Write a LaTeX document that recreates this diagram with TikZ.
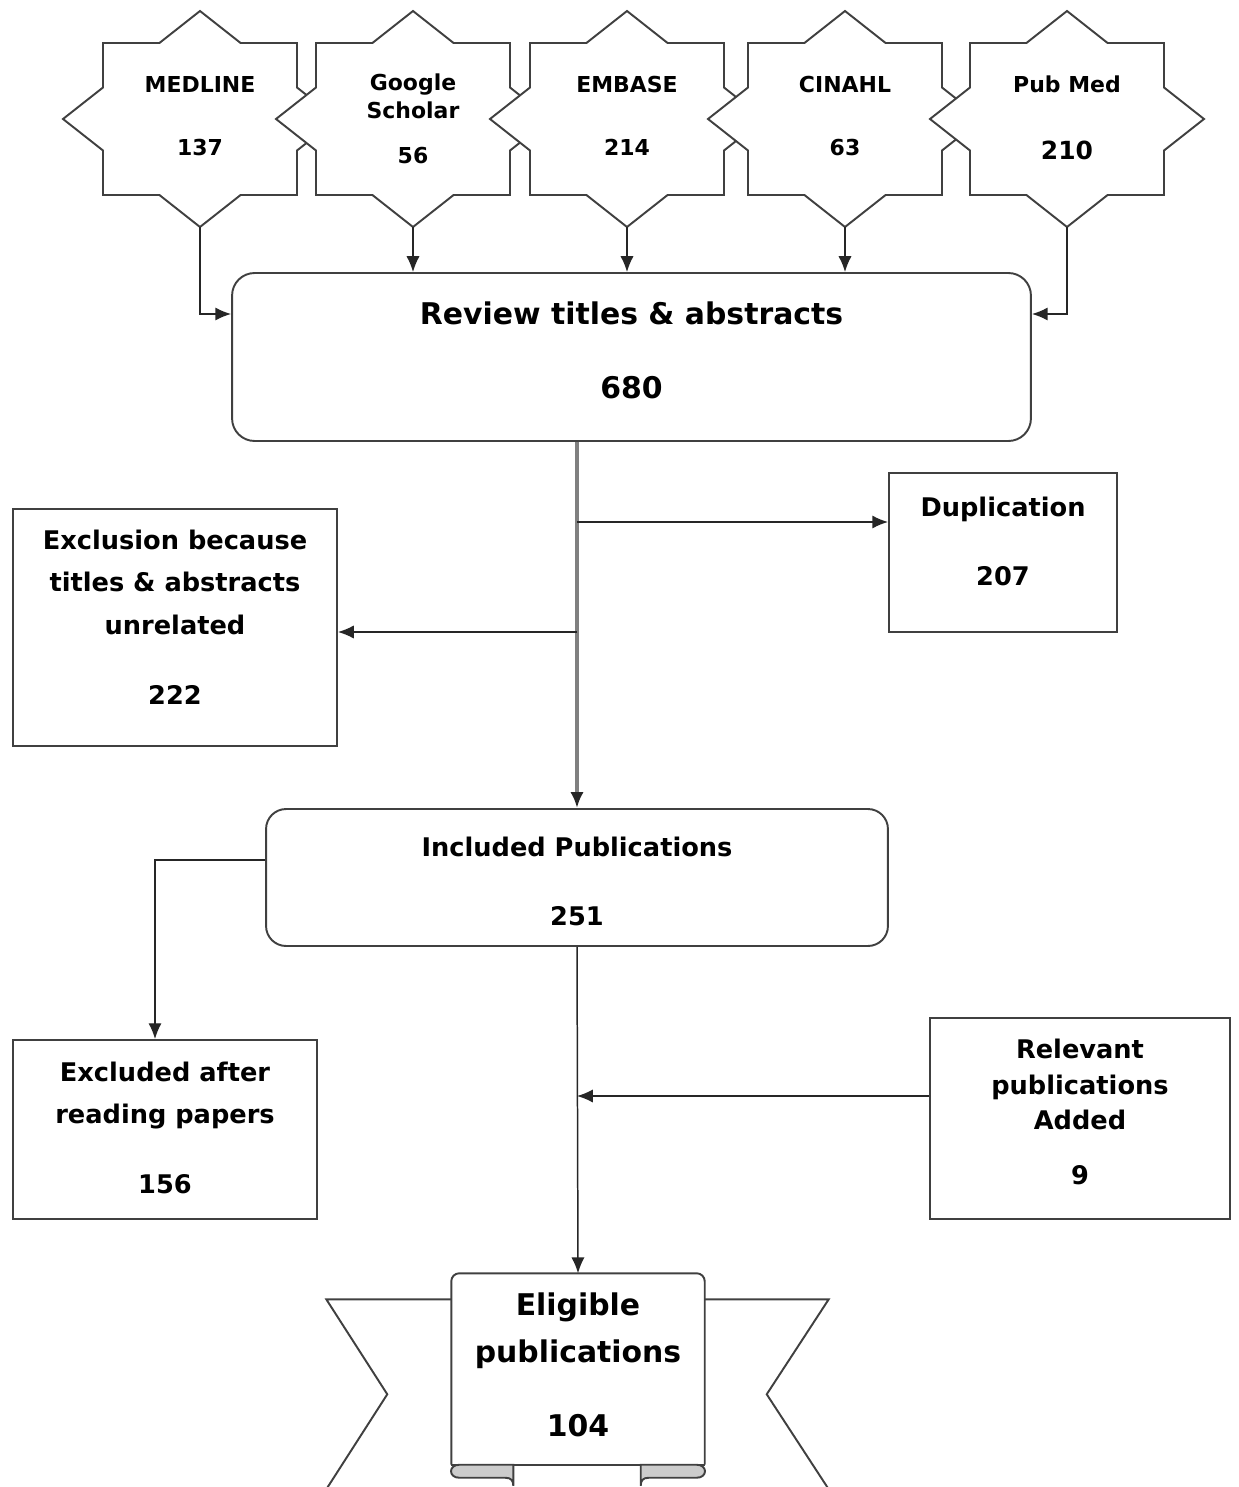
\documentclass[tikz,border=0pt]{standalone}
\usepackage{fontspec}
\setmainfont{DejaVu Sans}
\usetikzlibrary{calc,arrows.meta}

\newcommand{\tl}[1]{\begin{tabular}{@{}c@{}}#1\end{tabular}}

\begin{document}
\begin{tikzpicture}[x=0.02cm,y=-0.02cm,>={Latex[length=9pt,width=7.5pt]},line width=.85pt,
  every node/.style={inner sep=0pt},
  sfont/.style={font=\bfseries\fontsize{12.5}{15}\selectfont},
  mfont/.style={font=\bfseries\fontsize{14.6}{17.6}\selectfont},
  lfont/.style={font=\bfseries\fontsize{17}{20.4}\selectfont},
  outl/.style={draw=black!75,line width=1.1pt},
  starbox/.style={outl,fill=white},
  box/.style={outl,align=center},
  rbox/.style={box,rounded corners=.45cm},
  curl/.style={outl,fill=black!20},
  link/.style={black!85,->},
  trunk/.style={gray,line width=1.8pt,-{Latex[length=9pt,width=7.5pt,color=black!85]}}]
\useasboundingbox (0,0) rectangle (1238,1487);

\foreach \nm/\x/\y/\txt in {MED/200/119/{MEDLINE\\[20.8pt]137}, GS/413/122/{Google\\[.9pt]Scholar\\[10.6pt]56},
    EMB/627/119/{EMBASE\\[20.8pt]214}, CIN/845/119/{CINAHL\\[20.8pt]63},
    PM/1067/120.5/{Pub Med\\[23.2pt]{\fontsize{14.2}{17}\selectfont 210}}} {
  \draw[starbox] (\x,11) -- ++(40.6,32) -- ++(56.4,0) -- ++(0,44.5) -- ++(40,31.5)
    -- ++(-40,31.5) -- ++(0,44.5) -- ++(-56.4,0) -- ++(-40.6,32) -- ++(-40.6,-32) -- ++(-56.4,0)
    -- ++(0,-44.5) -- ++(-40,-31.5) -- ++(40,-31.5) -- ++(0,-44.5) -- ++(56.4,0) -- cycle;
  \node[sfont] (\nm) at (\x,\y) {\tl{\txt}};
  \coordinate (\nm-b) at (\x,227);
}

\node[rbox,lfont,minimum width=15.98cm,minimum height=3.36cm] (REV) at (631.5,357)
  {\tl{Review titles \& abstracts\\[21.7pt]680\\[2.6pt]}};
\node[box,mfont,minimum width=4.56cm,minimum height=3.18cm] (DUP) at (1003,552.5)
  {\tl{Duplication\\[21.7pt]207\\[9pt]}};
\node[box,mfont,minimum width=6.48cm,minimum height=4.74cm] (EXC) at (175,627.5)
  {\tl{Exclusion because\\[6.4pt]titles \& abstracts\\[6.9pt]unrelated\\[22.2pt]222\\[7.8pt]}};
\node[rbox,mfont,rounded corners=.4cm,minimum width=12.44cm,minimum height=2.74cm] (INC) at (577,877.5)
  {\tl{\rule{0pt}{20.7pt}Included Publications\\[21.7pt]251}};
\node[box,mfont,minimum width=6.08cm,minimum height=3.58cm] (EXR) at (165,1129.5)
  {\tl{\rule{0pt}{14.7pt}Excluded after\\[6.3pt]reading papers\\[22.2pt]156}};
\node[box,mfont,minimum width=6cm,minimum height=4.02cm] (REL) at (1080,1118.5)
  {\tl{Relevant\\[2.9pt]publications\\[2.3pt]Added\\[13.7pt]9\\[4pt]}};
\node[lfont,minimum width=5.04cm,minimum height=3.8cm] (ELI) at (578,1369)
  {\tl{Eligible\\[6.3pt]publications\\[21.7pt]104}};

\draw[outl] ($(ELI.north west)+(0,26)$) -- ++(-125,0) -- ++(61,95) -- ++(-61,95);
\draw[outl] ($(ELI.north east)+(0,26)$) -- ++(124,0) -- ++(-62,95) -- ++(62,95);
\draw[outl,rounded corners=.16cm] (ELI.south west) -- (ELI.north west) -- (ELI.north east) -- (ELI.south east);
\draw[outl] (ELI.south west) -- (ELI.south east);
\filldraw[curl] ($(ELI.south west)+(62,0)$) -- ($(ELI.south west)+(8,0)$)
  .. controls +(-11,0) and +(-11,0) .. ($(ELI.south west)+(8,13)$) -- ($(ELI.south west)+(54,13)$)
  .. controls +(6,0) and +(0,-5) .. ($(ELI.south west)+(62,21)$) -- cycle;
\filldraw[curl] ($(ELI.south east)+(-64,0)$) -- ($(ELI.south east)+(-8,0)$)
  .. controls +(11,0) and +(11,0) .. ($(ELI.south east)+(-8,13)$) -- ($(ELI.south east)+(-56,13)$)
  .. controls +(-6,0) and +(0,-5) .. ($(ELI.south east)+(-64,21)$) -- cycle;

\draw[link] (MED-b) |- ($(REV.west)+(0,-43)$);
\draw[link] (PM-b) |- ($(REV.east)+(0,-43)$);
\foreach \nm in {GS,EMB,CIN}
  \draw[link] (\nm-b) -- (\nm-b |- REV.north);
\draw[trunk] (REV.south -| INC.north) -- (INC.north);
\coordinate (DUPin) at ($(DUP.west)+(0,-30.5)$);
\draw[link] (INC.north |- DUPin) -- (DUPin);
\coordinate (EXCin) at ($(EXC.east)+(0,4.5)$);
\draw[link] (INC.north |- EXCin) -- (EXCin);
\draw[link] ($(INC.west)+(0,-17.5)$) -| ($(EXR.north)+(-10,0)$);
\draw[link] (INC.south) -- (ELI.north);
\coordinate (RELout) at ($(REL.west)+(0,-22.5)$);
\draw[link] (RELout) -- (RELout -| INC.south);
\end{tikzpicture}
\end{document}
